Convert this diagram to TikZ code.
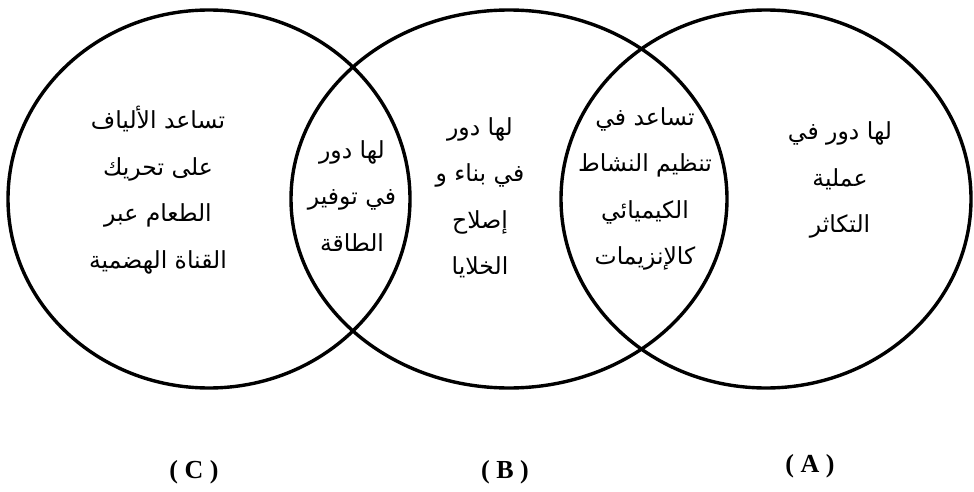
\documentclass[tikz,border=0pt]{standalone}
\usepackage{fontspec}
\usetikzlibrary{shapes.geometric}
\TeXXeTstate=1
\newfontfamily\arabicfont[Script=Arabic]{DejaVu Sans}
\newfontfamily\labelfont{Liberation Serif}
\newcommand\ar[1]{\beginR #1\endR}
\tikzset{
  venn/.style={ellipse, draw=black, line width=3.4pt, inner sep=0pt, minimum height=378pt},
  artext/.style={align=center, font=\arabicfont\fontsize{23.5}{46.5}\selectfont, inner sep=0pt},
  lbl/.style={font=\labelfont\bfseries\fontsize{26}{30}\selectfont, inner sep=0pt}
}
\begin{document}
\begin{tikzpicture}[x=1pt,y=-1pt]
\useasboundingbox (0,0) rectangle (974,492);
\node[venn, minimum width=402pt] (C) at (209,199) {};
\node[venn, minimum width=436pt] (B) at (509,199) {};
\node[venn, minimum width=410pt] (A) at (766,199) {};

\node[artext] (tc) at (158,190) {\ar{تساعد الألياف}\\\ar{على تحريك}\\\ar{الطعام عبر}\\\ar{القناة الهضمية}};
\node[artext] (tcb) at (352,196) {\ar{لها دور}\\\ar{في توفير}\\\ar{الطاقة}};
\node[artext] (tb) at (480,198) {\ar{لها دور}\\\ar{في بناء و}\\\ar{إصلاح}\\\ar{الخلايا}};
\node[artext] (tab) at (645,189) {\ar{تساعد في}\\\ar{تنظيم النشاط}\\\ar{الكيميائي}\\\ar{كالإنزيمات}};
\node[artext] (ta) at (840,180) {\ar{لها دور في}\\\ar{عملية}\\\ar{التكاثر}};

\node[lbl] (lc) at (194,472) {( C )};
\node[lbl] (lb) at (505,472) {( B )};
\node[lbl] (la) at (810,466) {( A )};
\end{tikzpicture}
\end{document}
